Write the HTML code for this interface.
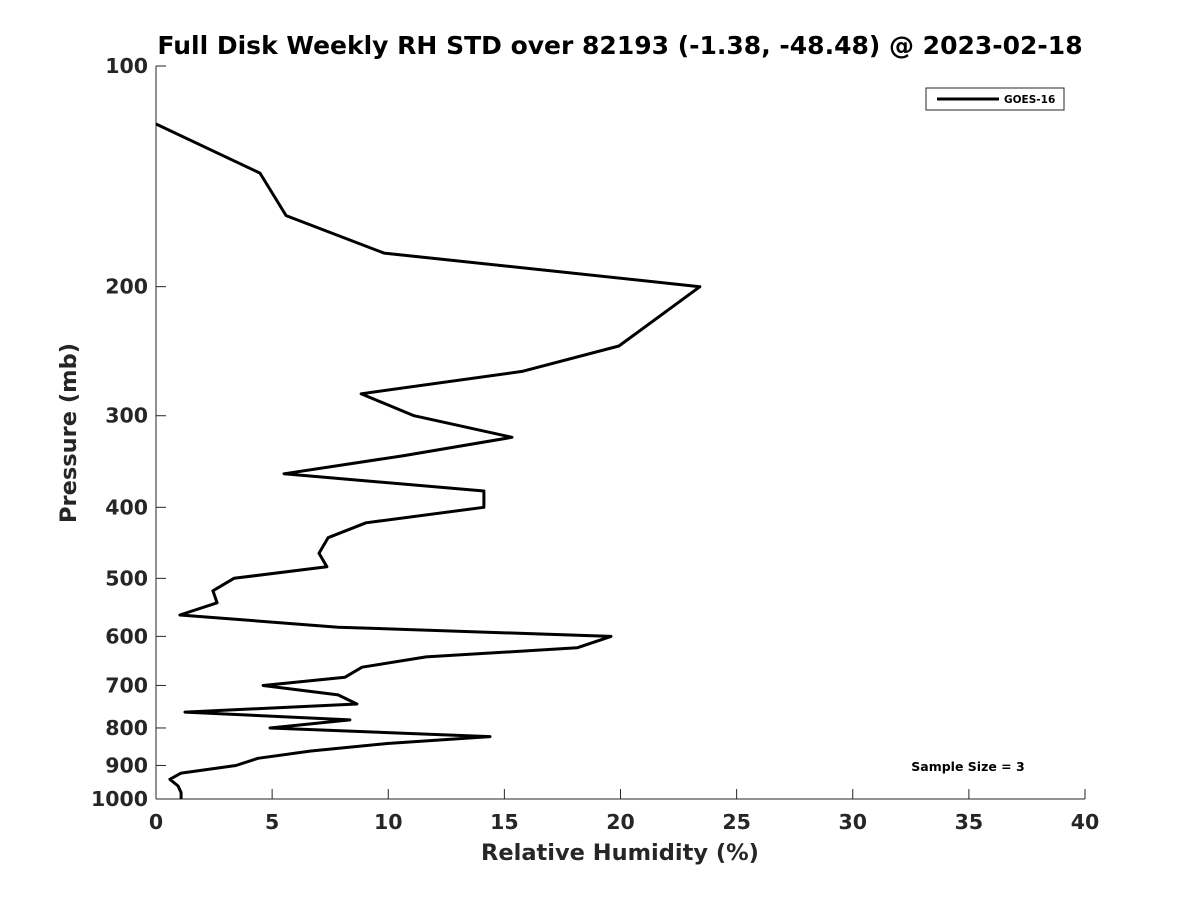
<!DOCTYPE html>
<html><head><meta charset="utf-8"><style>
body{margin:0;background:#fff;}
svg text{font-family:"DejaVu Sans","Liberation Sans",sans-serif;font-weight:bold;fill:#262626;}
</style></head><body>
<svg id="chart" width="1200" height="900" xmlns="http://www.w3.org/2000/svg">
<rect width="1200" height="900" fill="#fff"/>
<text x="620" y="54" font-size="25" text-anchor="middle" style="fill:#000">Full Disk Weekly RH STD over 82193 (-1.38, -48.48) @ 2023-02-18</text>
<g id="axes"></g>
<path id="line" fill="none" stroke="#000" stroke-width="3" stroke-linejoin="round"/>
<text x="620" y="860" font-size="22.5" text-anchor="middle">Relative Humidity (%)</text>
<text transform="translate(76,433) rotate(-90)" font-size="22.5" text-anchor="middle">Pressure (mb)</text>
<g>
<rect x="926" y="88" width="138" height="22" fill="#fff" stroke="#262626" stroke-width="1"/>
<line x1="937" y1="99" x2="999" y2="99" stroke="#000" stroke-width="3"/>
<text x="1004" y="103" font-size="10.5" style="fill:#000">GOES-16</text>
</g>
<text x="968" y="771" font-size="12.5" text-anchor="middle" style="fill:#000">Sample Size = 3</text>
</svg>
<script>
const rhValues=[0,4.48,5.6,9.82,23.42,19.93,15.76,8.83,11.11,15.33,10.68,5.51,14.12,14.12,9.04,7.41,7.02,7.36,3.36,2.45,2.63,1.03,7.84,19.59,18.13,11.63,8.87,8.14,4.61,7.84,8.65,1.25,8.35,4.91,14.38,9.95,6.67,4.39,3.44,1.08,0.6,0.95,1.08,1.08];
const pressures=[120,140,160,180,200,241,261,280,300,321,340,360,380,400,420,440,462,482,500,520,540,561,583,600,622,640,661,682,700,721,742,761,780,800,822,840,860,880,900,922,940,960,980,1000];
const xTicks=[0,5,10,15,20,25,30,35,40];
const yTicks=[100,200,300,400,500,600,700,800,900,1000];
const L=156,R=1085,T=66,B=799;
const xs=v=>L+(v-0)/(40-0)*(R-L);
const ys=p=>T+(Math.log10(p)-2)*(B-T);
const ns="http://www.w3.org/2000/svg";
const ax=document.getElementById('axes');
function mk(tag,attrs,parent){const e=document.createElementNS(ns,tag);for(const k in attrs)e.setAttribute(k,attrs[k]);parent.appendChild(e);return e;}
let a=mk('line',{x1:L,y1:T,x2:L,y2:B,stroke:'#262626','stroke-width':1},ax);


a=mk('line',{x1:L,y1:B,x2:R,y2:B,stroke:'#262626','stroke-width':1},ax);


xTicks.forEach(v=>{const x=xs(v);
 const t=mk('line',{x1:x,y1:B,x2:x,y2:B-10,stroke:'#262626','stroke-width':1},ax);
 
 
 const tx=mk('text',{x:x,y:B+30,'font-size':20.5,'text-anchor':'middle'},ax);tx.textContent=v;
 
 });
yTicks.forEach(v=>{const y=ys(v);
 const t=mk('line',{x1:L,y1:y,x2:L+10,y2:y,stroke:'#262626','stroke-width':1},ax);
 
 
 const tx=mk('text',{x:L-8,y:y+7,'font-size':20.5,'text-anchor':'end'},ax);tx.textContent=v;
 
 });
document.getElementById('line').setAttribute('d',rhValues.map((v,i)=>(i?'L':'M')+xs(v).toFixed(1)+','+ys(pressures[i]).toFixed(1)).join(''));
</script>
</body></html>
